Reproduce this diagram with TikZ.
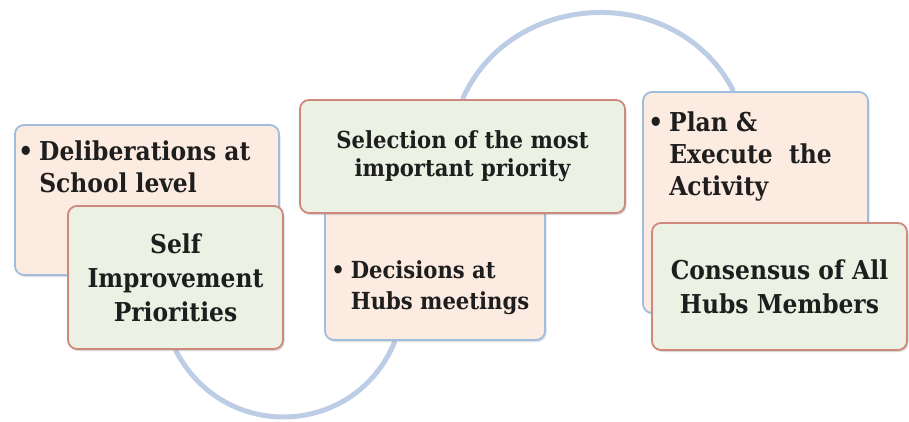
\documentclass[tikz,border=0pt]{standalone}
\usepackage{fontspec}
\setmainfont{DejaVu Serif Condensed}[BoldFont={DejaVu Serif Condensed Bold}]
\usepackage{tikz}
\usetikzlibrary{shadows,backgrounds}
\definecolor{peach}{RGB}{252,235,224}
\definecolor{mint}{RGB}{235,242,228}
\definecolor{blueline}{RGB}{160,188,222}
\definecolor{redline}{RGB}{206,136,126}
\definecolor{arcblue}{RGB}{190,205,230}
\definecolor{ink}{RGB}{30,30,30}
\def\hubfont#1#2{\fontsize{#1}{#2}\selectfont\bfseries}

\begin{document}
\begin{tikzpicture}[x=1pt,y=1pt,
  pk/.style={rectangle,draw=blueline,fill=peach,line width=1.8pt,rounded corners=9pt,
    drop shadow={shadow xshift=1.5pt,shadow yshift=-2pt,opacity=.25}},
  gk/.style={rectangle,draw=redline,fill=mint,line width=1.8pt,rounded corners=9pt,align=center,
    text=ink,font=\hubfont{26}{34},drop shadow={shadow xshift=1.5pt,shadow yshift=-2pt,opacity=.3}},
  bl/.style={anchor=base west,inner sep=0pt,text=ink,font=\hubfont{26}{32}},
  ring/.style={draw=arcblue,line width=5pt}]
  \useasboundingbox (0,0) rectangle (909,421);

  \node[pk,minimum width=264pt,minimum height=150pt] (delib) at (147,221) {};
  \node[bl] (delibt) at ([xshift=4pt,yshift=-36pt]delib.north west)
    {\begin{tabular}[t]{@{}l@{\hspace{6pt}}l@{}}\textbullet&Deliberations at\\&School level\end{tabular}};
  \node[gk,minimum width=215pt,minimum height=143pt] (self) at (175.5,143.5) {Self\\Improvement\\Priorities};

  \node[pk,minimum width=220pt,minimum height=150pt] (decis) at (435,156) {};
  \node[bl,font=\hubfont{23.5}{31}] (decist) at ([xshift=7pt,yshift=62pt]decis.south west)
    {\begin{tabular}[t]{@{}l@{\hspace{6pt}}l@{}}\textbullet&Decisions at\\&Hubs meetings\end{tabular}};
  \node[gk,minimum width=325pt,minimum height=113pt,font=\hubfont{23.5}{28}] (sel) at (462.5,264.5)
    {Selection of the most\\important priority};

  \node[pk,minimum width=225pt,minimum height=221pt] (plan) at (755.5,218.5) {};
  \node[bl] (plant) at ([xshift=6pt,yshift=-40pt]plan.north west)
    {\begin{tabular}[t]{@{}l@{\hspace{6pt}}l@{}}\textbullet&Plan \&\\&Execute\ \ the\\&Activity\end{tabular}};
  \node[gk,minimum width=255pt,minimum height=127pt] (cons) at (779.5,134.5) {Consensus of All\\Hubs Members};

  \begin{scope}[on background layer]
    \draw[ring] (self.south) to[out=-63,in=-112,looseness=1.22] ([xshift=-40pt]decis.south);
    \draw[ring] (sel.north) to[out=66,in=117,looseness=1.15] ([xshift=-22pt]plan.north);
  \end{scope}
\end{tikzpicture}
\end{document}
